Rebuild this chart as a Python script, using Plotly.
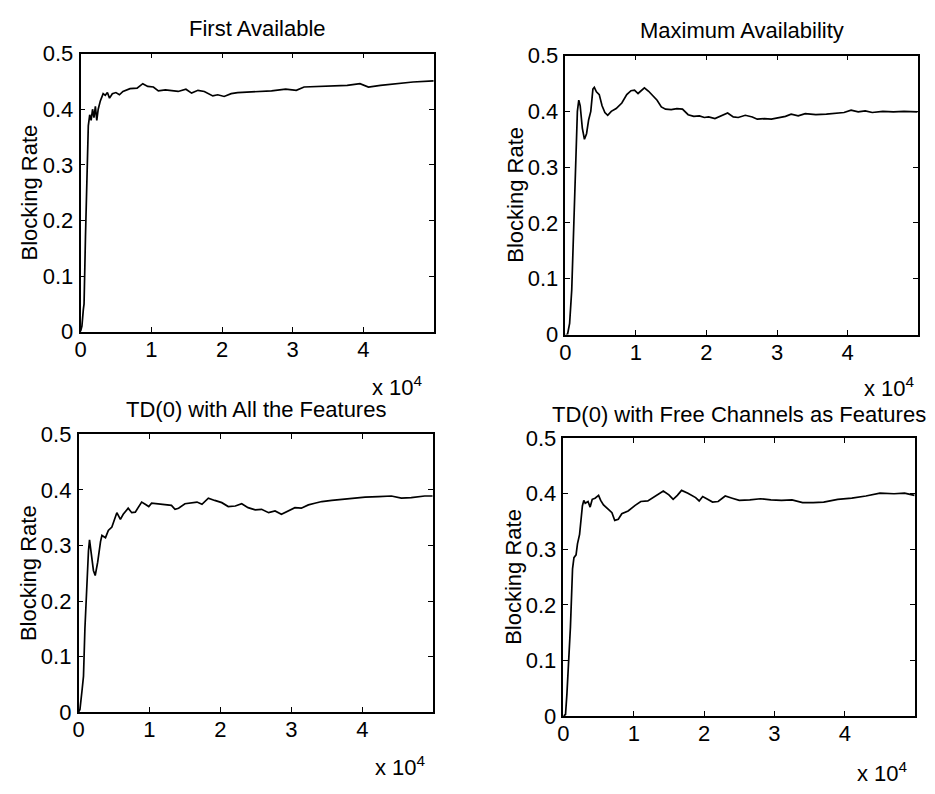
import plotly.graph_objects as go

W, H = 935, 794

# ---------------- data (x in calls, y = blocking rate) ----------------
fa_x = [0, 200, 400, 500, 700, 900, 1100, 1300, 1500, 1700, 1900, 2100, 2300, 2500, 2800,
        3200, 3500, 3800, 4100, 4500, 5000, 5500, 6000, 7000, 8000, 8800, 9500, 10300,
        11000, 12000, 13000, 13800, 14900, 15700, 16600, 17500, 18700, 19400, 20300,
        21300, 22200, 24500, 27000, 29000, 30500, 31600, 34000, 36000, 37700, 39500,
        40700, 42400, 44700, 47000, 49900]
fa_y = [0.0, 0.01, 0.04, 0.05, 0.17, 0.30, 0.37, 0.39, 0.38, 0.40, 0.385, 0.405, 0.38, 0.40,
        0.415, 0.428, 0.425, 0.43, 0.42, 0.428, 0.43, 0.426, 0.432, 0.437, 0.438, 0.446,
        0.441, 0.44, 0.433, 0.435, 0.434, 0.432, 0.436, 0.429, 0.434, 0.432, 0.424, 0.426,
        0.423, 0.428, 0.43, 0.431, 0.433, 0.436, 0.434, 0.44, 0.441, 0.441, 0.443, 0.446,
        0.44, 0.443, 0.446, 0.449, 0.451]

ma_x = [0, 300, 600, 900, 1200, 1500, 1700, 1900, 2100, 2400, 2700, 3000, 3300, 3600, 3900,
        4100, 4400, 4800, 5200, 5600, 6000, 6500, 7200, 8000, 8700, 9300, 9800, 10300,
        10800, 11200, 11800, 12400, 13000, 13600, 14200, 15000, 15800, 16600, 17400,
        18200, 19000, 19700, 20300, 21200, 22200, 23000, 23800, 24500, 25500, 26500,
        27200, 28200, 29200, 30200, 31200, 32000, 33000, 34000, 35500, 37000, 38500,
        39500, 40500, 41500, 42500, 43500, 45000, 46500, 48000, 49900]
ma_y = [0.0, 0.0, 0.02, 0.08, 0.20, 0.33, 0.40, 0.42, 0.41, 0.37, 0.35, 0.36, 0.385, 0.40,
        0.44, 0.443, 0.435, 0.43, 0.41, 0.398, 0.393, 0.40, 0.405, 0.415, 0.43, 0.437,
        0.438, 0.432, 0.438, 0.442, 0.436, 0.428, 0.42, 0.408, 0.404, 0.403, 0.405, 0.404,
        0.394, 0.391, 0.392, 0.389, 0.39, 0.387, 0.392, 0.397, 0.39, 0.389, 0.393, 0.39,
        0.386, 0.387, 0.386, 0.389, 0.391, 0.395, 0.392, 0.396, 0.394, 0.395, 0.397,
        0.398, 0.402, 0.399, 0.401, 0.398, 0.40, 0.399, 0.40, 0.399]

td_x = [0, 200, 500, 700, 900, 1200, 1400, 1550, 1800, 2100, 2350, 2700, 3100, 3300, 3800,
        4200, 4700, 5200, 5400, 5900, 6300, 7000, 7500, 8000, 8500, 8900, 9400, 9900,
        10300, 11300, 12200, 13100, 13600, 14100, 15000, 16000, 16700, 17400, 18300,
        19200, 20200, 21100, 22100, 23000, 23900, 24900, 25800, 26800, 27700, 28600,
        29600, 30500, 31400, 32400, 33300, 34300, 35700, 37100, 38500, 40400, 42300,
        44100, 45500, 46900, 48800, 49900]
td_y = [0.0, 0.005, 0.04, 0.065, 0.15, 0.24, 0.29, 0.31, 0.285, 0.255, 0.246, 0.27, 0.307,
        0.318, 0.314, 0.327, 0.333, 0.353, 0.359, 0.347, 0.356, 0.367, 0.359, 0.36, 0.37,
        0.378, 0.374, 0.37, 0.376, 0.375, 0.373, 0.372, 0.365, 0.367, 0.375, 0.376, 0.378,
        0.374, 0.385, 0.381, 0.377, 0.37, 0.371, 0.375, 0.368, 0.364, 0.365, 0.359, 0.362,
        0.356, 0.362, 0.368, 0.367, 0.373, 0.376, 0.379, 0.381, 0.383, 0.385, 0.387,
        0.388, 0.389, 0.385, 0.386, 0.389, 0.389]

fc_x = [0, 300, 500, 800, 1000, 1300, 1500, 1800, 2000, 2300, 2700, 2900, 3100, 3500, 3800,
        4100, 4500, 5000, 5300, 5700, 6400, 6900, 7300, 7800, 8300, 9200, 10200, 11000,
        12000, 13000, 14200, 15000, 15600, 16200, 16800, 17700, 18800, 19300, 19800,
        20500, 21200, 22000, 23000, 24000, 25000, 26500, 28000, 29500, 31000, 32500,
        34000, 35500, 37000, 39000, 41000, 43000, 45000, 47000, 48500, 49900]
fc_y = [0.0, 0.003, 0.04, 0.10, 0.16, 0.265, 0.285, 0.29, 0.31, 0.327, 0.378, 0.388, 0.383,
        0.386, 0.376, 0.39, 0.392, 0.397, 0.388, 0.38, 0.372, 0.366, 0.352, 0.354, 0.364,
        0.369, 0.379, 0.386, 0.387, 0.395, 0.405, 0.398, 0.39, 0.397, 0.406, 0.401, 0.393,
        0.387, 0.395, 0.39, 0.385, 0.386, 0.396, 0.392, 0.388, 0.389, 0.391, 0.389, 0.388,
        0.389, 0.384, 0.384, 0.385, 0.39, 0.392, 0.396, 0.401, 0.40, 0.401, 0.397]

titles = ["First Available", "Maximum Availability",
          "TD(0) with All the Features", "TD(0) with Free Channels as Features"]
y_label = "Blocking Rate"
x_tickvals = [0, 10000, 20000, 30000, 40000]
x_ticktext = ["0", "1", "2", "3", "4"]
y_tickvals = [0, 0.1, 0.2, 0.3, 0.4, 0.5]
y_ticktext = ["0", "0.1", "0.2", "0.3", "0.4", "0.5"]
exp_label = "x 10<sup>4</sup>"

series = [(fa_x, fa_y), (ma_x, ma_y), (td_x, td_y), (fc_x, fc_y)]

# ---------------- layout (pixel boxes: left, right, top, bottom) ----------------
boxes = [(75, 431, 43, 330), (563, 918, 45, 333), (73, 430, 436, 723), (561, 915, 440, 727)]
title_offsets = [26, 26, 26, 24]
exp_offsets = [(9, 56), (1, 54), (5, 56), (5, 58)]

FONT = "Liberation Sans, Arial, Helvetica, sans-serif"
FS = 22

def px(x):
    return x / W

def py(y):
    return 1 - y / H

fig = go.Figure()
annotations = []
layout = dict(
    width=W, height=H, margin=dict(l=0, r=0, t=0, b=0),
    paper_bgcolor="white", plot_bgcolor="white", showlegend=False,
    font=dict(family=FONT, size=FS, color="black"),
)

for i, ((xs, ys), (l, r, t, b)) in enumerate(zip(series, boxes)):
    n = "" if i == 0 else str(i + 1)
    fig.add_trace(go.Scatter(x=xs, y=ys, mode="lines",
                             line=dict(color="black", width=1.7),
                             xaxis="x" + n, yaxis="y" + n, hoverinfo="skip"))
    axcommon = dict(showline=True, mirror="ticks", linecolor="black", linewidth=1.5,
                    ticks="inside", ticklen=5, tickwidth=1, tickcolor="black",
                    showgrid=False, zeroline=False,
                    tickfont=dict(family=FONT, size=FS, color="black"))
    layout["xaxis" + n] = dict(axcommon, domain=[px(l), px(r)], range=[0, 50000],
                               tickvals=x_tickvals, ticktext=x_ticktext,
                               ticklabelstandoff=-3, anchor="y" + n)
    layout["yaxis" + n] = dict(axcommon, domain=[py(b), py(t)], range=[0, 0.5],
                               tickvals=y_tickvals, ticktext=y_ticktext,
                               ticklabelstandoff=1, anchor="x" + n)
    annotations.append(dict(text=titles[i], x=px((l + r) / 2), y=py(t - title_offsets[i]),
                            xref="paper", yref="paper", xanchor="center", yanchor="middle",
                            showarrow=False, font=dict(family=FONT, size=FS, color="black")))
    annotations.append(dict(text=y_label, x=px(l - 51), y=py((t + b) / 2),
                            xref="paper", yref="paper", xanchor="center", yanchor="middle",
                            textangle=-90, showarrow=False,
                            font=dict(family=FONT, size=FS, color="black")))
    dx, dy = exp_offsets[i]
    annotations.append(dict(text=exp_label, x=px(r - dx), y=py(b + dy),
                            xref="paper", yref="paper", xanchor="right", yanchor="middle",
                            showarrow=False, font=dict(family=FONT, size=FS, color="black")))

layout["annotations"] = annotations
fig.update_layout(**layout)
fig.write_html("out.html")
